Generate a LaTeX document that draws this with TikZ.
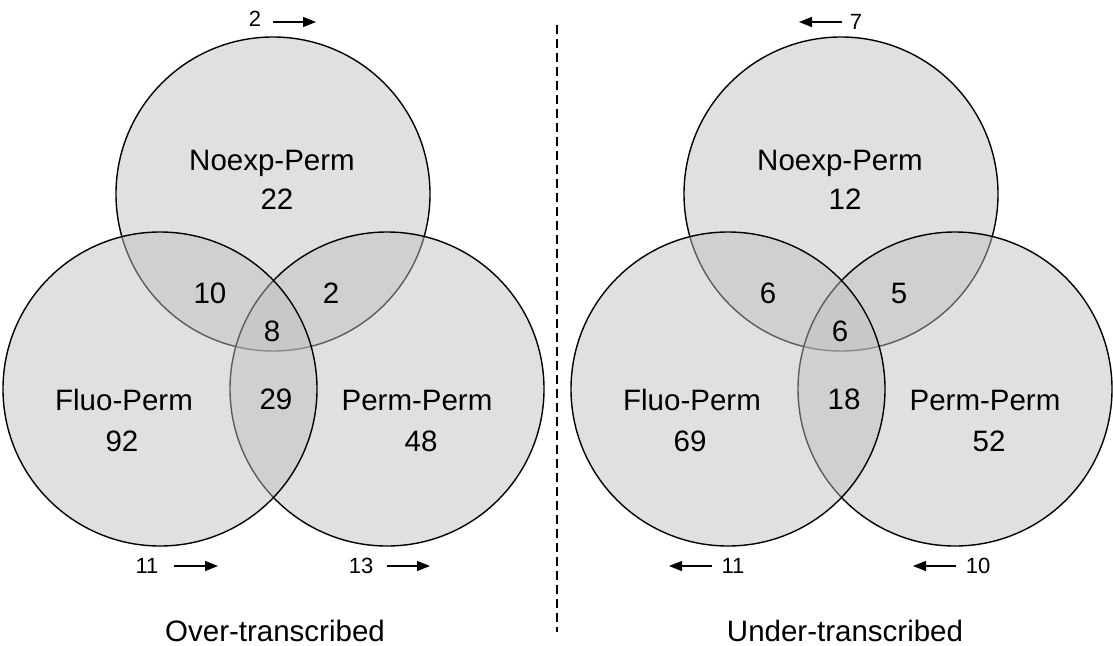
\documentclass[tikz,border=0pt]{standalone}
\usepackage{fontspec}
\setmainfont{Liberation Sans}
\usetikzlibrary{arrows.meta}
\tikzset{
  x=1pt, y=-1pt,
  venn/.style={fill=black!25, fill opacity=0.48, draw=black, line width=1.4pt},
  lbl/.style={font=\fontsize{29.5}{31}\selectfont, anchor=base, inner sep=0pt},
  cnt/.style={font=\fontsize{22}{24}\selectfont, anchor=base, inner sep=0pt},
  ttl/.style={font=\fontsize{29.5}{32}\selectfont, anchor=base, inner sep=0pt},
  arr/.style={line width=1.5pt, -{Triangle[length=13pt,width=10pt]}},
}
\begin{document}
\begin{tikzpicture}
\useasboundingbox (0,0) rectangle (1113,645);
% ---------- left diagram ----------
\path[venn] (273,194) circle[radius=157];
\path[venn] (387,389) circle[radius=157];
\path[venn] (160,389) circle[radius=157];
\node[lbl] (lnoexp) at (272,170) {Noexp-Perm};
\node[lbl] (ln22) at (277,209) {22};
\node[lbl] (ln10) at (210,303) {10};
\node[lbl] (ln2) at (331,303) {2};
\node[lbl] (ln8) at (272,341) {8};
\node[lbl] (lfluo) at (124,410) {Fluo-Perm};
\node[lbl] (ln92) at (122,451) {92};
\node[lbl] (ln29) at (276,409) {29};
\node[lbl] (lperm) at (417,410) {Perm-Perm};
\node[lbl] (ln48) at (421,451) {48};
\node[cnt] (lc2) at (255,27) {2};
\coordinate (la1s) at (273,22); \coordinate (la1e) at (316,22);
\draw[arr] (la1s) -- (la1e);
\node[cnt] (lc11) at (147,573) {11};
\coordinate (la2s) at (174,566); \coordinate (la2e) at (218,566);
\draw[arr] (la2s) -- (la2e);
\node[cnt] (lc13) at (361,573) {13};
\coordinate (la3s) at (387,566); \coordinate (la3e) at (430,566);
\draw[arr] (la3s) -- (la3e);
\node[ttl] (ltitle) at (275,641) {Over-transcribed};
% ---------- divider ----------
\coordinate (dtop) at (557,25); \coordinate (dbot) at (557,632);
\draw[line width=1.8pt, dash pattern=on 9pt off 5pt] (dtop) -- (dbot);
% ---------- right diagram ----------
\path[venn] (841,194) circle[radius=157];
\path[venn] (955,389) circle[radius=157];
\path[venn] (728,389) circle[radius=157];
\node[lbl] (rnoexp) at (840,170) {Noexp-Perm};
\node[lbl] (rn12) at (845,209) {12};
\node[lbl] (rn6a) at (768,303) {6};
\node[lbl] (rn5) at (899,303) {5};
\node[lbl] (rn6b) at (840,341) {6};
\node[lbl] (rfluo) at (692,410) {Fluo-Perm};
\node[lbl] (rn69) at (690,451) {69};
\node[lbl] (rn18) at (844,409) {18};
\node[lbl] (rperm) at (985,410) {Perm-Perm};
\node[lbl] (rn52) at (989,451) {52};
\node[cnt] (rc7) at (856,29) {7};
\coordinate (ra1s) at (842,22); \coordinate (ra1e) at (799,22);
\draw[arr] (ra1s) -- (ra1e);
\node[cnt] (rc11) at (733,573) {11};
\coordinate (ra2s) at (712,566); \coordinate (ra2e) at (669,566);
\draw[arr] (ra2s) -- (ra2e);
\node[cnt] (rc10) at (978,573) {10};
\coordinate (ra3s) at (956,566); \coordinate (ra3e) at (913,566);
\draw[arr] (ra3s) -- (ra3e);
\node[ttl] (rtitle) at (845,641) {Under-transcribed};
\end{tikzpicture}
\end{document}
